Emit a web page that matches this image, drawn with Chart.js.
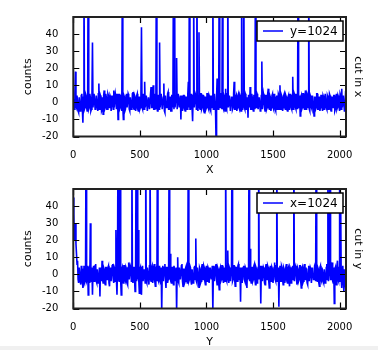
<!DOCTYPE html>
<html>
<head>
<meta charset="utf-8">
<script src="https://cdn.jsdelivr.net/npm/chart.js@4/dist/chart.umd.min.js"></script>
<style>
    html, body { margin: 0; padding: 0; background: #fff; }
    #wrap { position: relative; width: 378px; height: 350px; overflow: hidden; }
    #wrap canvas { position: absolute; left: 0; }
    #cut-x { top: 0; }
    #cut-y { top: 172px; }
    #edge { position: absolute; left: 0; top: 346px; width: 378px; height: 4px; background: #f0f0f0; }
</style>
</head>
<body>
<div id="wrap">
    <canvas id="cut-x" width="378" height="180"></canvas>
    <canvas id="cut-y" width="378" height="178"></canvas>
    <div id="edge"></div>
</div>
<script>
// Line cuts through the frame centre, one sample every STEP pixels
const STEP = 4;
const X_TICKS = [0, 500, 1000, 1500, 2000];
const Y_TICKS = [-20, -10, 0, 10, 20, 30, 40];

// counts along the row y=1024
const cutXCounts = [
    2, -3, -4, 5, 18, -2, -3, 4, 4, -5, -6, 3, 3, -5, -4, 4, 5, -4, -12, 3, 80, -4, -3, 5, 4, -3, -5, 4, 90, -4, -3, 5,
    3, -5, -4, 4, 35, -3, -3, 5, 5, -4, -3, 4, 4, -3, -5, 5, 11, -4, -3, 4, 3, -5, -4, 3, -7, 4, 7, -4, -3, 5, 3, -4,
    -4, 5, 4, -3, -3, 4, 3, -5, -5, 4, 4, -4, 7, -3, -3, 5, 3, -4, -4, 5, -10, 3, 5, -4, -3, 4, 4, -5, 70, -3, -10, 4,
    3, -5, -4, 4, 5, -3, -3, 5, 4, -4, -5, 3, 3, -4, -3, 5, 6, -3, -4, 4, 3, -5, -3, 4, 5, -4, -5, 3, 3, -4, -3, 5,
    44, -3, -4, 5, 3, -4, 12, -3, -3, 4, 4, -5, -5, 3, 3, -4, -4, 5, 9, -3, -3, 4, 10, -4, -4, 5, 3, -4, 90, -3, -5, 4,
    4, -4, 35, -3, -3, 5, 5, -4, -4, 3, 11, -5, -6, 4, 4, -3, -3, 5, 6, -4, -4, 3, 3, -5, -5, 4, 4, -3, 80, -4, 95, -3,
    -3, 4, 26, -4, -4, 5, 5, -3, -3, 4, -10, 3, 4, -5, -3, 4, 4, -4, -5, 3, 3, -4, -4, 5, 12, -3, 85, -4, -4, 5, 3, -3,
    -11, 4, 70, -3, -3, 5, 4, -4, 90, -3, -5, 4, 41, -3, -4, 5, 5, -4, -3, 4, 4, -5, -6, 3, 3, -4, -3, 5, 5, -3, -4, 4,
    3, -4, -5, 4, 4, -3, 75, -4, -3, 5, 5, -4, -22, 3, 14, -3, -4, 4, 80, -3, -3, 5, 5, -4, 70, -3, -4, 4, 3, -5, 8, -3,
    -4, 5, 85, -3, -3, 4, 4, -5, -5, 3, 3, -4, -3, 5, 12, -4, -4, 3, 4, -5, -3, 4, 5, -3, -4, 4, 3, -5, 80, -4, -3, 5,
    90, -3, -4, 5, 4, -4, -3, 3, -9, 4, 4, -3, 9, -4, -4, 5, 3, -3, -5, 4, 4, -4, 85, -3, -3, 5, 4, -4, -4, 3, 3, -5,
    -3, 4, 24, -4, -4, 5, 3, -3, -5, 4, 4, -4, -3, 5, 8, -3, -4, 4, 3, -5, -3, 4, 5, -3, -4, 5, 3, -4, -5, 3, 4, -4,
    -3, 5, 4, -4, 10, -3, -4, 4, 3, -5, -3, 4, 5, -3, -4, 4, 3, -4, -5, 3, 4, -4, -3, 5, 3, -3, -4, 4, 15, -4, -3, 5,
    4, -3, -4, 5, 3, -4, 80, -3, -3, 4, -8, 3, 4, -4, -3, 5, 5, -3, -4, 4, 7, -4, -3, 5, 4, -3, 85, -4, -5, 4, 3, -3,
    -4, 4, 4, -3, -8, 3, 3, -4, -3, 5, 5, -4, -4, 3, 3, -5, -3, 4, 4, -3, -5, 4, 3, -4, -3, 5, 5, -3, -4, 4, 3, -4,
    -3, 5, 4, -4, -5, 3, 3, -3, -3, 4, 4, -5, -4, 3, 5, -4, -3, 4, 3, -3, -5, 5, 4, -4, 8, -3, -3, 4, 4, -5, -4, 4,
    3
];

// counts along the column x=1024
const cutYCounts = [
    45, 35, 20, 26, 30, 18, 12, 6, 8, -3, -5, 4, 4, -4, -6, 5, 3, -4, -8, 3, 5, -5, -4, 4, 90, -4, -3, 5, -12, 3, 4, -5,
    30, -3, -4, 4, -12, 3, 5, -4, -3, 5, 6, -4, -5, 3, 3, -5, -4, 4, -13, 3, 4, -4, 8, -3, -5, 4, 3, -5, -6, 4, 4, -3,
    -3, 4, 5, -5, -7, 3, 4, -4, -4, 5, 6, -3, -5, 4, 3, -4, 26, -3, -12, 4, 90, -3, -4, 5, 85, -4, -12, 3, 4, -4, -5, 5,
    5, -3, -4, 4, 3, -5, -6, 4, 7, -3, -3, 5, 4, -4, 80, -3, -5, 4, 4, -3, -10, 3, 85, -4, 90, -3, 26, -4, -11, 3, 4, -5,
    -12, 4, 5, -4, -4, 3, 3, -5, 90, -4, -5, 4, 4, -3, -6, 5, 85, -3, -4, 4, 5, -5, -3, 4, 6, -4, -7, 3, 4, -4, 90, -3,
    -4, 5, 3, -4, -5, 4, -22, 3, 5, -4, -4, 4, 6, -3, -8, 4, 4, -5, -3, 4, 85, -3, 12, -4, -5, 4, 4, -3, -6, 5, 3, -4,
    -4, 4, -22, 3, 10, -4, -5, 4, 4, -3, -3, 5, 6, -4, -7, 3, 3, -5, -4, 4, 5, -3, -5, 4, 90, -4, -3, 5, 4, -4, -6, 3,
    3, -5, -4, 4, 5, -3, 21, -4, -5, 4, 4, -3, -8, 4, 3, -5, -4, 4, 6, -3, -3, 5, 4, -4, -6, 3, 5, -4, -4, 4, 3, -5,
    -5, 4, 4, -3, -3, 5, -22, 3, 5, -4, -4, 4, 6, -3, -6, 4, 3, -5, -9, 3, 4, -4, -3, 5, 5, -3, -5, 4, 4, -4, 85, -3,
    -4, 5, 14, -3, -5, 4, 3, -4, -4, 3, 90, -4, -3, 5, 5, -3, -7, 4, 4, -4, -4, 5, 6, -3, -3, 4, -16, 3, 4, -5, -5, 4,
    5, -3, -4, 4, 3, -5, -8, 4, 4, -3, 85, -4, 15, -3, -5, 4, 4, -4, -3, 5, 6, -3, -6, 4, 3, -5, -4, 4, 90, -3, -3, 5,
    -17, 3, 5, -4, -4, 4, 3, -5, -6, 4, 6, -3, -3, 5, 4, -4, -8, 3, 5, -4, -4, 4, 3, -5, -5, 4, 7, -3, -4, 5, 85, -4,
    -3, 4, -19, 3, 5, -4, -4, 5, 4, -3, -6, 4, 3, -5, -3, 4, 6, -4, -5, 3, 4, -4, -7, 4, 3, -5, -4, 4, 5, -3, 90, -4,
    -4, 5, 4, -3, -6, 4, 3, -4, -3, 5, 5, -4, -8, 3, 4, -5, -4, 4, 6, -3, -3, 4, 4, -5, -6, 3, 5, -4, -4, 4, 3, -5,
    -5, 4, 4, -3, -3, 5, 6, -4, 85, -3, -4, 4, 3, -5, -7, 4, 5, -3, -4, 4, 4, -4, -5, 3, 3, -5, -3, 4, 6, -3, 85, -4,
    -4, 3, 90, -3, -3, 5, 7, -4, -5, 4, -17, 3, 4, -4, -6, 5, 8, -3, -4, 4, 90, -4, 43, -3, -8, 4, 5, -5, -10, 3, 3, -6,
    -4
];

const FONT = 'DejaVu Sans';

// inward ticks on all four sides, the frame, the legend box and axis titles
const frameTicks = {
    id: 'frameTicks',
    afterDatasetsDraw(chart, args, opts) {
        const { ctx, chartArea: a, scales } = chart;
        ctx.save();

        ctx.strokeStyle = '#000';
        ctx.lineWidth = 1.2;
        ctx.beginPath();
        Y_TICKS.forEach(v => {
            const y = Math.round(scales.y.getPixelForValue(v)) + 0.5;
            ctx.moveTo(a.left, y);
            ctx.lineTo(a.left + 6, y);
            ctx.moveTo(a.right, y);
            ctx.lineTo(a.right - 6, y);
        });
        X_TICKS.forEach(v => {
            const x = Math.round(scales.x.getPixelForValue(v)) + 0.5;
            ctx.moveTo(x, a.top);
            ctx.lineTo(x, a.top + 6);
            ctx.moveTo(x, a.bottom);
            ctx.lineTo(x, a.bottom - 6);
        });
        ctx.stroke();

        ctx.strokeStyle = '#222';
        ctx.lineWidth = 2;
        ctx.strokeRect(a.left, a.top, a.right - a.left, a.bottom - a.top);

        // legend
        const bx = a.right - 89, by = a.top + 4, bw = 86, bh = 20;
        ctx.fillStyle = '#fff';
        ctx.fillRect(bx, by, bw, bh);
        ctx.strokeStyle = '#000';
        ctx.lineWidth = 1.5;
        ctx.strokeRect(bx, by, bw, bh);
        ctx.strokeStyle = '#0000ff';
        ctx.lineWidth = 1.5;
        ctx.beginPath();
        ctx.moveTo(bx + 6, by + bh / 2);
        ctx.lineTo(bx + 26, by + bh / 2);
        ctx.stroke();
        ctx.fillStyle = '#000';
        ctx.font = '12px "' + FONT + '"';
        ctx.textAlign = 'left';
        ctx.textBaseline = 'middle';
        ctx.fillText(opts.legend, bx + 33, by + bh / 2 + 0.5);

        // axis titles
        const cy = (a.top + a.bottom) / 2;
        ctx.font = '11px "' + FONT + '"';
        ctx.textAlign = 'center';
        ctx.textBaseline = 'middle';

        ctx.save();
        ctx.translate(28.5, cy);
        ctx.rotate(-Math.PI / 2);
        ctx.fillText('counts', 0, 0);
        ctx.restore();

        ctx.save();
        ctx.translate(358, cy);
        ctx.rotate(Math.PI / 2);
        ctx.fillText(opts.side, 0, 0);
        ctx.restore();

        ctx.fillText(opts.xTitle, (a.left + a.right) / 2, 170);

        ctx.restore();
    }
};

function makeCutChart(canvasId, counts, legend, side, xTitle) {
    const canvas = document.getElementById(canvasId);
    const height = canvas.height;

    return new Chart(canvas.getContext('2d'), {
        type: 'line',
        data: {
            datasets: [{
                label: legend,
                data: counts.map((v, i) => ({ x: i * STEP, y: v })),
                borderColor: '#0000ff',
                borderWidth: 1.6,
                pointRadius: 0,
                tension: 0,
                fill: false
            }]
        },
        options: {
            responsive: false,
            animation: false,
            events: [],
            layout: { padding: { top: 17, right: 32, left: 0, bottom: 0 } },
            plugins: {
                legend: { display: false },
                tooltip: { enabled: false },
                frameTicks: { legend: legend, side: side, xTitle: xTitle }
            },
            scales: {
                x: {
                    type: 'linear',
                    min: 0,
                    max: 2048,
                    grid: { display: false },
                    border: { display: false },
                    afterBuildTicks: s => { s.ticks = X_TICKS.map(v => ({ value: v })); },
                    afterFit: s => { s.height = height - 136.5; },
                    ticks: {
                        padding: 5,
                        maxRotation: 0,
                        color: '#000',
                        font: { family: FONT, size: 10 },
                        callback: v => String(v)
                    }
                },
                y: {
                    min: -20,
                    max: 50,
                    grid: { display: false },
                    border: { display: false },
                    afterBuildTicks: s => { s.ticks = Y_TICKS.map(v => ({ value: v })); },
                    afterFit: s => { s.width = 73.3; },
                    ticks: {
                        padding: 7,
                        color: '#000',
                        font: { family: FONT, size: 10 },
                        callback: v => String(v)
                    }
                }
            }
        },
        plugins: [frameTicks]
    });
}

makeCutChart('cut-x', cutXCounts, 'y=1024', 'cut in x', 'X');
makeCutChart('cut-y', cutYCounts, 'x=1024', 'cut in y', 'Y');
</script>
</body>
</html>
